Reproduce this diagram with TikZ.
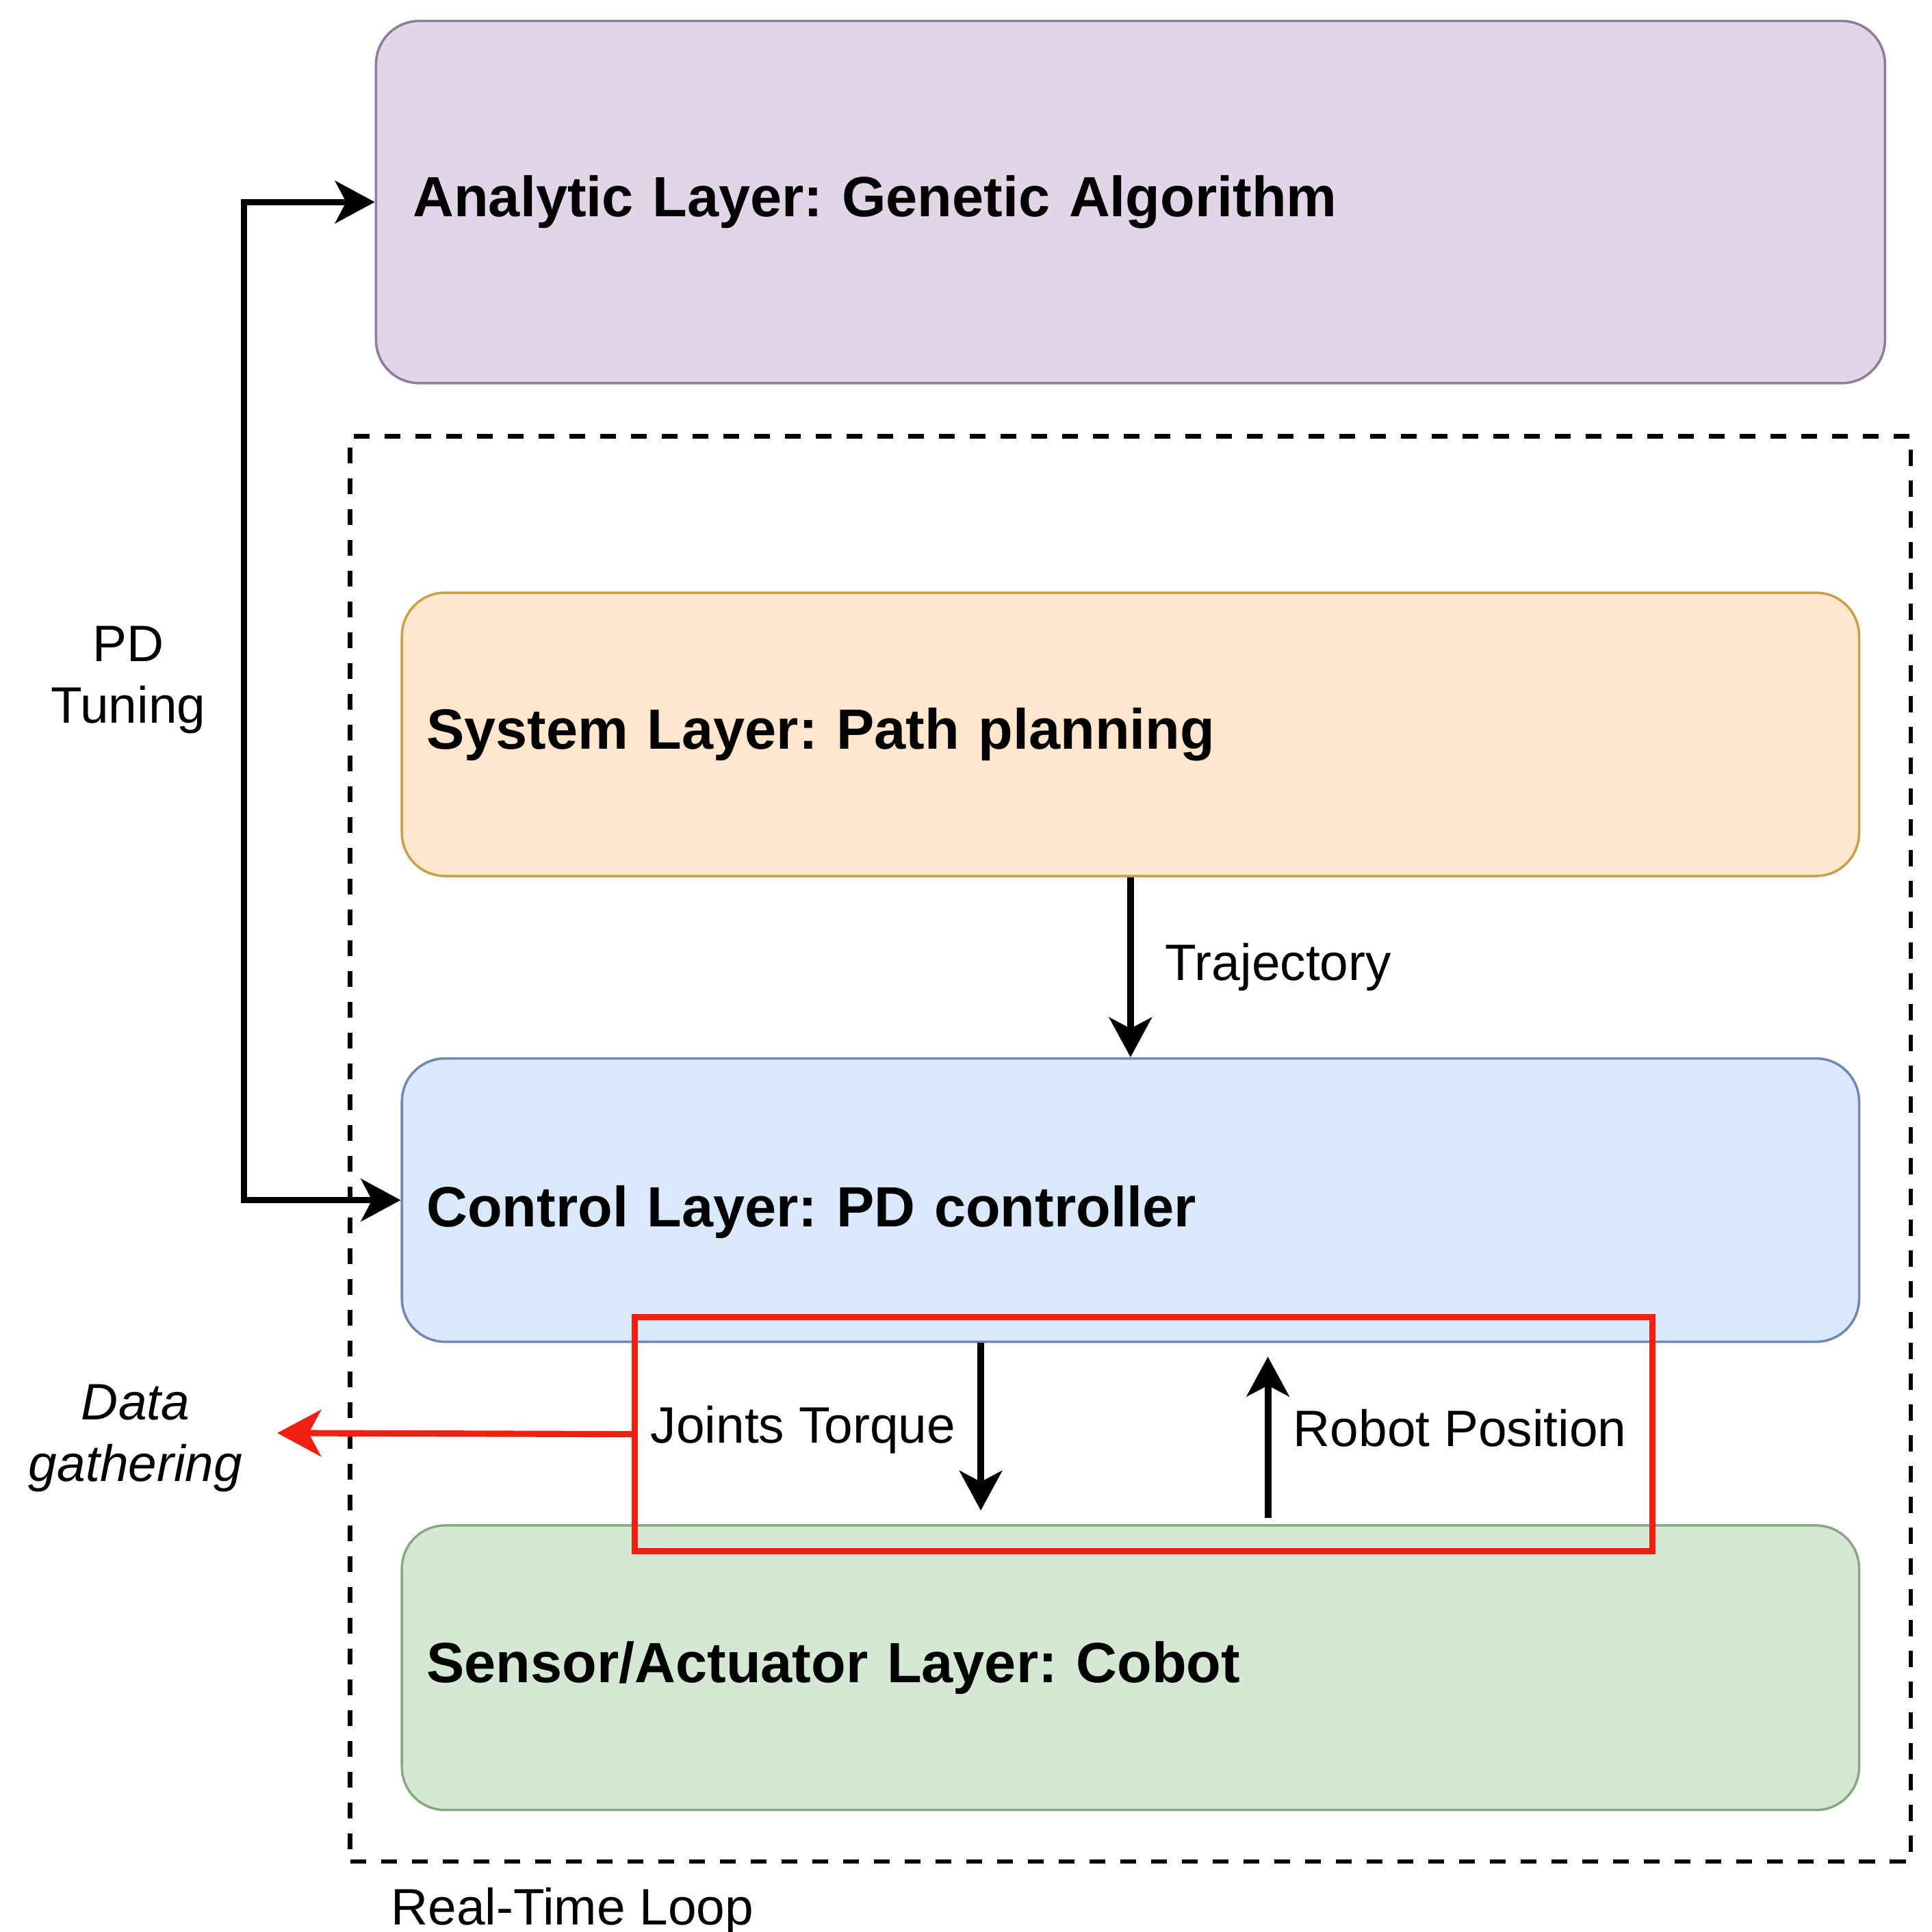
\documentclass[tikz,border=0pt]{standalone}
\usepackage{fontspec}
\setmainfont{Liberation Sans}
\usetikzlibrary{arrows.meta,calc}
\definecolor{anafill}{HTML}{E1D5E7}
\definecolor{anadraw}{HTML}{907A9E}
\definecolor{sysfill}{HTML}{FFE6CC}
\definecolor{sysdraw}{HTML}{C8A048}
\definecolor{ctlfill}{HTML}{DAE8FC}
\definecolor{ctldraw}{HTML}{7088B0}
\definecolor{senfill}{HTML}{D5E8D4}
\definecolor{sendraw}{HTML}{88A880}
\definecolor{redline}{HTML}{F02010}
\newcommand\layerfont{\bfseries\fontsize{23.6pt}{28pt}\selectfont}
\newcommand\lblfont{\fontsize{21.3pt}{25.6pt}\selectfont}
\frenchspacing
\begin{document}
\frenchspacing
\begin{tikzpicture}[x=0.018cm, y=-0.018cm,
  >={Stealth[length=0.58cm, width=0.62cm, inset=0.16cm]},
  layer/.style={draw, line width=1pt, rounded corners=0.63cm, inner xsep=0.36cm, inner ysep=0pt,
    align=left, font=\layerfont, minimum height=4.14cm, text width=20.574cm},
  arr/.style={line width=2.9pt, ->},
  lbl/.style={inner sep=0pt, font=\lblfont},
  loopbox/.style={draw, line width=1.8pt, dash pattern=on 0.234cm off 0.216cm, inner sep=0pt},
  redbox/.style={draw=redline, line width=2.6pt, inner sep=0pt},
  redarr/.style={draw=redline, line width=2.6pt, -{Stealth[length=0.64cm, width=0.68cm, inset=0.18cm]}}
]
\useasboundingbox (0,0) rectangle (1568,1568);
% real-time loop frame
\node[loopbox, minimum width=22.806cm, minimum height=20.826cm] (rtl) at (917.5,932.5) {};
\node[lbl, anchor=base west] (rtlab) at (317,1562) {Real-Time Loop};
% layers
\node[layer, fill=anafill, draw=anadraw, minimum height=5.292cm, text width=20.97cm, inner xsep=0.54cm]
  (ana) at (917.5,164) {Analytic Layer: Genetic Algorithm};
\node[layer, fill=sysfill, draw=sysdraw] (sys) at (917.5,596) {System Layer: Path planning};
\node[layer, fill=ctlfill, draw=ctldraw, text height=0.96cm] (ctl) at (917.5,974) {Control Layer: PD controller};
\node[layer, fill=senfill, draw=sendraw, minimum height=4.158cm] (sen) at (917.5,1353.5) {Sensor/Actuator Layer: Cobot};
% connectors
\draw[arr] (sys.south) -- node[lbl, anchor=west, xshift=0.46cm] (trl) {Trajectory} (ctl.north);
\draw[arr, shorten >=0.2cm] ($(ctl.south)+(-121.5,0)$) --
  node[lbl, anchor=east, xshift=-0.32cm, yshift=0.06cm] (jtl) {Joints Torque} ($(sen.north)+(-121.5,0)$);
\draw[arr, shorten <=0.09cm, shorten >=0.2cm] ($(sen.north)+(111.5,0)$) --
  node[lbl, anchor=west, xshift=0.32cm, yshift=0.08cm] (rpl) {Robot Position} ($(ctl.south)+(111.5,0)$);
\draw[line width=2.6pt, <->] (ana.west) -- ++(-106,0) |- (ctl.west);
\node[lbl, align=center] (pdl) at (104,552) {PD\\Tuning};
% red highlight and data gathering
\node[redbox, minimum width=14.868cm, minimum height=3.42cm] (rb) at (928,1164) {};
\coordinate (dg) at (225,1163);
\draw[redarr] (rb.west) -- (dg);
\node[lbl, align=center, font=\lblfont\itshape] (dgl) at (110,1167) {Data\\gathering};
\end{tikzpicture}
\end{document}
